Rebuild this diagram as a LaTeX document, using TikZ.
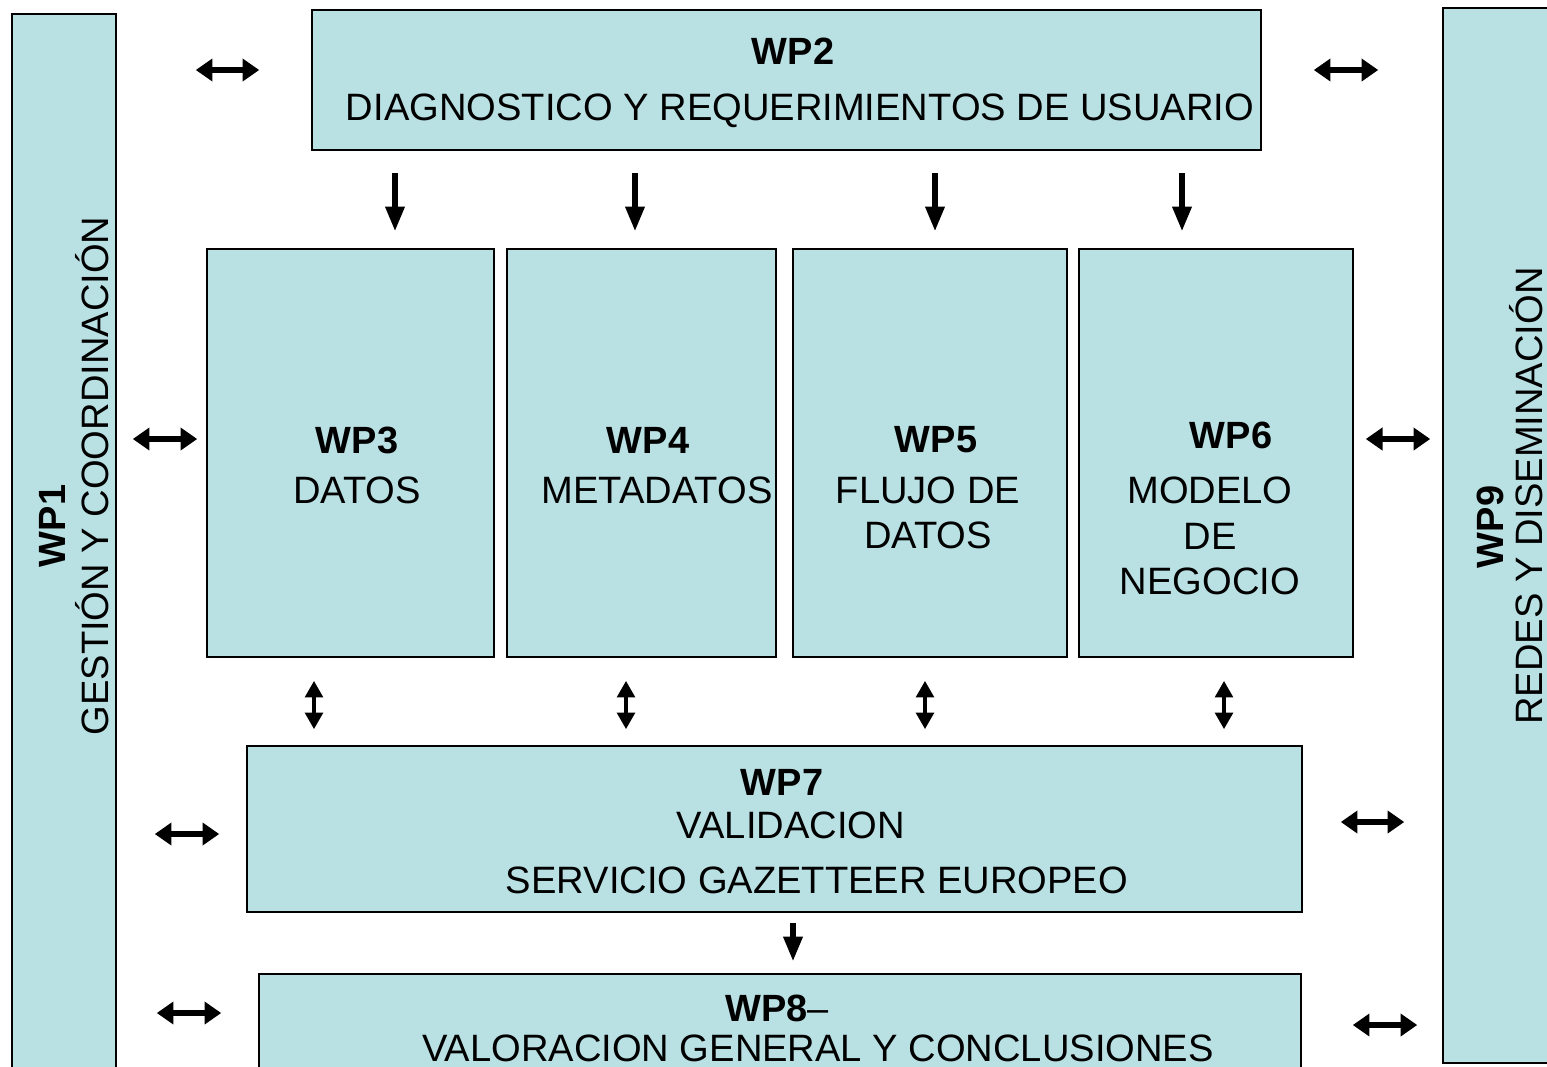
\documentclass[tikz,border=0pt]{standalone}
\usepackage{fontspec}
\setmainfont{Liberation Sans}
\usetikzlibrary{arrows.meta,fit}
\definecolor{wpfill}{RGB}{185,224,227}
\tikzset{
  wpbox/.style={draw, line width=0.9pt, fill=wpfill, inner sep=0pt},
  wptitle/.style={font=\fontsize{21.6}{26}\selectfont\bfseries, inner sep=0pt},
  wptext/.style={font=\fontsize{21.7}{26}\selectfont, inner sep=0pt},
  sarrow/.style={line width=3pt, -{Triangle[width=10.5pt,length=14pt]}},
  harrow/.style={line width=3pt, {Triangle[width=12.5pt,length=9.5pt]}-{Triangle[width=12.5pt,length=9.5pt]}},
  varrow/.style={line width=2.4pt, {Triangle[width=10pt,length=9.5pt]}-{Triangle[width=10pt,length=9.5pt]}}
}
\begin{document}
\begin{tikzpicture}[x=0.02cm,y=-0.02cm]
\useasboundingbox (0,0) rectangle (1547,1066);
\clip (0,0) rectangle (1547,1066);
% work package boxes
\node[wpbox, fit={(12,14) (116,1090)}] (wp1) {};
\node[wpbox, fit={(1443,8) (1570,1063)}] (wp9) {};
\node[wpbox, fit={(312,10) (1261,150)}] (wp2) {};
\node[wpbox, fit={(207,249) (494,657)}] (wp3) {};
\node[wpbox, fit={(507,249) (776,657)}] (wp4) {};
\node[wpbox, fit={(793,249) (1067,657)}] (wp5) {};
\node[wpbox, fit={(1079,249) (1353,657)}] (wp6) {};
\node[wpbox, fit={(247,746) (1302,912)}] (wp7) {};
\node[wpbox, fit={(259,974) (1301,1090)}] (wp8) {};
% labels
\node[wptitle, rotate=90] (wp1t) at (52,526) {WP1};
\node[wptext, rotate=90] (wp1d) at (92,476) {GESTIÓN Y COORDINACIÓN};
\node[wptitle, rotate=90] (wp9t) at (1490,527) {WP9};
\node[wptext, rotate=90] (wp9d) at (1526,496) {REDES Y DISEMINACIÓN};
\node[wptitle] (wp2t) at (793,51) {WP2};
\node[wptext] (wp2d) at (800,111) {DIAGNOSTICO Y REQUERIMIENTOS DE USUARIO};
\node[wptitle] (wp3t) at (357,440) {WP3};
\node[wptext] (wp3d) at (357,490) {DATOS};
\node[wptitle] (wp4t) at (648,440) {WP4};
\node[wptext] (wp4d) at (657,490) {METADATOS};
\node[wptitle] (wp5t) at (936,440) {WP5};
\node[wptext, align=center] (wp5d) at (928,513) {FLUJO DE\\DATOS};
\node[wptitle] (wp6t) at (1231,435) {WP6};
\node[wptext, align=center] (wp6d) at (1210,536) {MODELO\\DE\\NEGOCIO};
\node[wptitle] (wp7t) at (782,782) {WP7};
\node[wptext] (wp7d) at (791,825) {VALIDACION};
\node[wptext] (wp7e) at (817,880) {SERVICIO GAZETTEER EUROPEO};
\node[wptitle] (wp8t) at (777,1008) {WP8\mdseries--};
\node[wptext] (wp8d) at (818,1048) {VALORACION GENERAL Y CONCLUSIONES};
% arrows
\foreach \x/\a in {395/wp3,635/wp4,935/wp5,1182/wp6}
  \draw[sarrow, shorten <=0.44cm, shorten >=0.34cm] (wp2.south -| \x,0) -- (\a.north -| \x,0);
\foreach \x/\a in {314/wp3,626/wp4,925/wp5,1224/wp6}
  \draw[varrow, shorten <=0.46cm, shorten >=0.32cm] (\a.south -| \x,0) -- (wp7.north -| \x,0);
\draw[sarrow, shorten <=0.20cm, shorten >=0.24cm] (wp7.south -| 793,0) -- (wp8.north -| 793,0);
\draw[harrow, shorten <=1.58cm, shorten >=1.04cm] (wp1.east |- 0,70) -- (wp2.west |- 0,70);
\draw[harrow, shorten <=0.32cm, shorten >=0.18cm] (wp1.east |- 0,439) -- (wp3.west |- 0,439);
\draw[harrow, shorten <=0.76cm, shorten >=0.54cm] (wp1.east |- 0,834) -- (wp7.west |- 0,834);
\draw[harrow, shorten <=0.80cm, shorten >=0.74cm] (wp1.east |- 0,1013) -- (wp8.west |- 0,1013);
\draw[harrow, shorten <=1.04cm, shorten >=1.28cm] (wp2.east |- 0,70) -- (wp9.west |- 0,70);
\draw[harrow, shorten <=0.24cm, shorten >=0.24cm] (wp6.east |- 0,439) -- (wp9.west |- 0,439);
\draw[harrow, shorten <=0.76cm, shorten >=0.76cm] (wp7.east |- 0,822) -- (wp9.west |- 0,822);
\draw[harrow, shorten <=1.02cm, shorten >=0.50cm] (wp8.east |- 0,1025) -- (wp9.west |- 0,1025);
\end{tikzpicture}
\end{document}
